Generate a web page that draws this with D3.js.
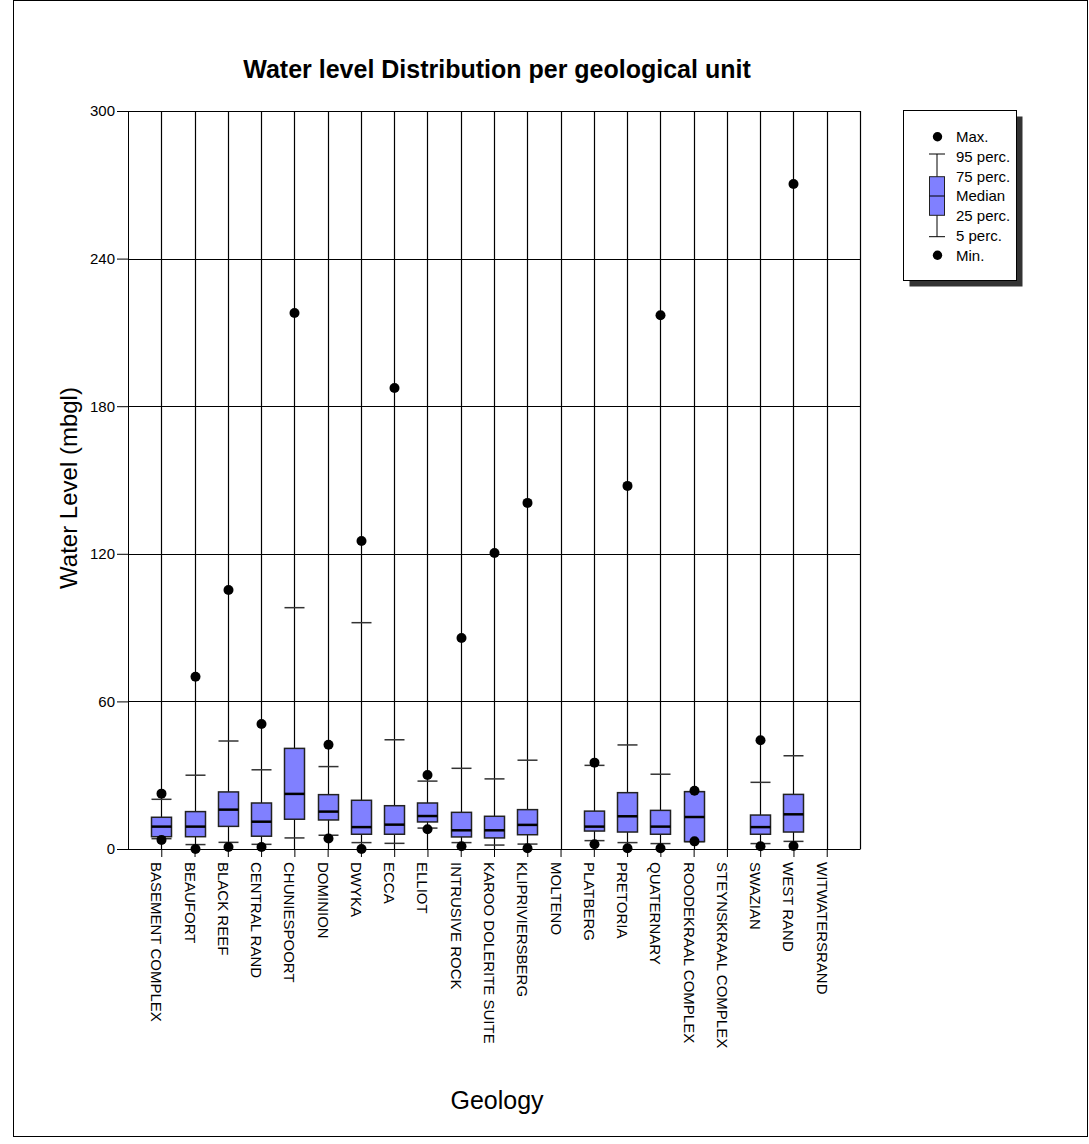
<!DOCTYPE html>
<html>
<head>
<meta charset="utf-8">
<script src="https://cdn.jsdelivr.net/npm/d3@7"></script>
<style>
  html, body { margin: 0; padding: 0; background: #fff; }
  svg { display: block; font-family: Arial, "Liberation Sans", sans-serif; }
</style>
</head>
<body>
<svg id="chart" width="1089" height="1144"></svg>
<script>
// Geological units along the x axis
const categories = [
  "BASEMENT COMPLEX", "BEAUFORT", "BLACK REEF", "CENTRAL RAND", "CHUNIESPOORT",
  "DOMINION", "DWYKA", "ECCA", "ELLIOT", "INTRUSIVE ROCK", "KAROO DOLERITE SUITE",
  "KLIPRIVIERSBERG", "MOLTENO", "PLATBERG", "PRETORIA", "QUATERNARY",
  "ROODEKRAAL COMPLEX", "STEYNSKRAAL COMPLEX", "SWAZIAN", "WEST RAND", "WITWATERSRAND"
];

// Water level statistics (mbgl) per unit; null = no data
const maxValues = [22.5, 70, 105.3, 50.8, 217.9, 42.4, 125.2, 187.4, 30.1, 85.8, 120.3, 140.7, null, 35.1, 147.6, 217.0, 23.7, null, 44.2, 270.3, null];
const p95Values = [20.2, 30.0, 43.9, 32.2, 98.1, 33.5, 92.0, 44.4, 27.6, 32.8, 28.5, 36.1, null, 34.0, 42.3, 30.4, 23.3, null, 27.1, 37.9, null];
const q3Values  = [12.9, 15.2, 23.2, 18.7, 40.9, 22.1, 19.8, 17.6, 18.7, 14.9, 13.3, 16.0, null, 15.4, 22.9, 15.7, 23.3, null, 13.8, 22.2, null];
const medianValues = [9.1, 9.1, 16.0, 11.1, 22.4, 15.2, 8.9, 9.9, 13.4, 7.6, 7.6, 9.8, null, 9.1, 13.3, 9.1, 13.0, null, 8.9, 14.1, null];
const q1Values  = [5.0, 5.0, 9.2, 5.2, 12.1, 11.8, 6.0, 6.0, 11.0, 4.9, 4.5, 5.8, null, 7.3, 6.9, 6.0, 3.0, null, 6.0, 6.9, null];
const p5Values  = [4.2, 1.8, 2.7, 1.9, 4.5, 5.6, 2.6, 2.3, 8.5, 2.6, 1.6, 2.0, null, 3.4, 2.6, 2.2, 3.0, null, 2.2, 3.1, null];
const minValues = [3.7, 0.0, 0.8, 0.8, null, 4.3, 0.0, null, 8.0, 1.1, null, 0.3, null, 1.9, 0.3, 0.3, 3.1, null, 1.1, 1.2, null];

const yTicks = [0, 60, 120, 180, 240, 300];
const legendLabels = ["Max.", "95 perc.", "75 perc.", "Median", "25 perc.", "5 perc.", "Min."];

const boxFill = "#8080ff";
const svg = d3.select("#chart");

// Outer frame
svg.append("rect")
  .attr("x", 13.5).attr("y", 0.5)
  .attr("width", 1074).attr("height", 1136)
  .attr("fill", "#fff").attr("stroke", "#000").attr("stroke-width", 1);

const plot = { left: 128, right: 860, top: 111, bottom: 849 };

const x = d3.scalePoint().domain(categories).range([plot.left, plot.right]).padding(1);
const y = d3.scaleLinear().domain([0, 300]).range([plot.bottom, plot.top]);

// Horizontal grid + y axis
const yAxis = d3.axisLeft(y).tickValues(yTicks).tickSize(11).tickPadding(2).tickFormat(d3.format("d"));
const gy = svg.append("g").attr("transform", `translate(${plot.left},0)`).call(yAxis);
gy.select(".domain").attr("stroke", "#000");
gy.selectAll(".tick line").attr("stroke", "#000");
gy.selectAll(".tick text").attr("font-size", 15).attr("fill", "#000")
  .attr("font-family", "Arial, 'Liberation Sans', sans-serif");

svg.append("g").selectAll("line").data(yTicks).join("line")
  .attr("x1", plot.left).attr("x2", plot.right)
  .attr("y1", d => Math.round(y(d)) + 0.5).attr("y2", d => Math.round(y(d)) + 0.5)
  .attr("stroke", "#000").attr("stroke-width", 1);

// Vertical grid lines at each unit, plus the right edge
const vx = categories.map(c => x(c)).concat([plot.right]);
svg.append("g").selectAll("line").data(vx).join("line")
  .attr("x1", d => Math.round(d) + 0.5).attr("x2", d => Math.round(d) + 0.5)
  .attr("y1", plot.top).attr("y2", plot.bottom)
  .attr("stroke", "#000").attr("stroke-width", 1.2);

// x axis with rotated unit names
const xAxis = d3.axisBottom(x).tickSize(8).tickSizeOuter(0).tickFormat(d => d);
const gx = svg.append("g").attr("transform", `translate(0,${plot.bottom})`).call(xAxis);
gx.select(".domain").attr("stroke", "#000");
gx.selectAll(".tick line").attr("stroke", "#000");
gx.selectAll(".tick text")
  .attr("font-size", 15).attr("fill", "#000")
  .attr("font-family", "Arial, 'Liberation Sans', sans-serif")
  .attr("text-anchor", "start")
  .attr("dy", null)
  .attr("y", 0)
  .attr("transform", "translate(-10.5,13) rotate(90)");

// Box plots
const stats = categories.map((c, i) => ({
  name: c, max: maxValues[i], p95: p95Values[i], q3: q3Values[i],
  med: medianValues[i], q1: q1Values[i], p5: p5Values[i], min: minValues[i]
})).filter(d => d.med !== null);

const bw = 20;
const boxes = svg.append("g");
const g = boxes.selectAll("g").data(stats).join("g")
  .attr("transform", d => `translate(${Math.round(x(d.name)) + 0.5},0)`);

g.append("line").attr("class", "cap")
  .attr("x1", -bw / 2).attr("x2", bw / 2)
  .attr("y1", d => y(d.p95)).attr("y2", d => y(d.p95))
  .attr("stroke", "#333").attr("stroke-width", 1.5);
g.append("line").attr("class", "cap")
  .attr("x1", -bw / 2).attr("x2", bw / 2)
  .attr("y1", d => y(d.p5)).attr("y2", d => y(d.p5))
  .attr("stroke", "#333").attr("stroke-width", 1.5);
g.append("rect")
  .attr("x", -bw / 2).attr("width", bw)
  .attr("y", d => y(d.q3)).attr("height", d => y(d.q1) - y(d.q3))
  .attr("fill", boxFill).attr("stroke", "#222").attr("stroke-width", 1.5);
g.append("line")
  .attr("x1", -bw / 2).attr("x2", bw / 2)
  .attr("y1", d => y(d.med)).attr("y2", d => y(d.med))
  .attr("stroke", "#000").attr("stroke-width", 2.5);

const dots = [];
stats.forEach(d => {
  if (d.max !== null) dots.push({ name: d.name, v: d.max });
  if (d.min !== null) dots.push({ name: d.name, v: d.min });
});
svg.append("g").selectAll("circle").data(dots).join("circle")
  .attr("cx", d => Math.round(x(d.name)) + 0.5)
  .attr("cy", d => y(d.v))
  .attr("r", 5).attr("fill", "#000");

// Titles
svg.append("text")
  .attr("x", 497).attr("y", 78)
  .attr("text-anchor", "middle")
  .attr("font-size", 25).attr("font-weight", "bold")
  .text("Water level Distribution per geological unit");

svg.append("text")
  .attr("transform", "translate(77,488) rotate(-90)")
  .attr("text-anchor", "middle")
  .attr("font-size", 24)
  .text("Water Level (mbgl)");

svg.append("text")
  .attr("x", 497).attr("y", 1109)
  .attr("text-anchor", "middle")
  .attr("font-size", 25)
  .text("Geology");

// Legend
const lg = svg.append("g");
lg.append("rect").attr("x", 909.5).attr("y", 116.5).attr("width", 113).attr("height", 170).attr("fill", "#333");
lg.append("rect").attr("x", 903.5).attr("y", 110.5).attr("width", 113).attr("height", 170)
  .attr("fill", "#fff").attr("stroke", "#000").attr("stroke-width", 1);

const lx = 937;
lg.append("line").attr("x1", lx).attr("x2", lx).attr("y1", 154).attr("y2", 236.7)
  .attr("stroke", "#000").attr("stroke-width", 1);
lg.append("line").attr("x1", lx - 8).attr("x2", lx + 8).attr("y1", 154).attr("y2", 154)
  .attr("stroke", "#000").attr("stroke-width", 1);
lg.append("line").attr("x1", lx - 8).attr("x2", lx + 8).attr("y1", 236.7).attr("y2", 236.7)
  .attr("stroke", "#000").attr("stroke-width", 1);
lg.append("rect").attr("x", lx - 7.5).attr("y", 176.7).attr("width", 15).attr("height", 38.6)
  .attr("fill", boxFill).attr("stroke", "#222").attr("stroke-width", 1);
lg.append("line").attr("x1", lx - 7.5).attr("x2", lx + 7.5).attr("y1", 196).attr("y2", 196)
  .attr("stroke", "#000").attr("stroke-width", 1);
lg.append("circle").attr("cx", lx + 0.5).attr("cy", 136.7).attr("r", 4.7).attr("fill", "#000");
lg.append("circle").attr("cx", lx + 0.5).attr("cy", 255.3).attr("r", 4.7).attr("fill", "#000");

lg.selectAll("text.lab").data(legendLabels).join("text")
  .attr("class", "lab")
  .attr("x", 956).attr("y", (d, i) => 142 + i * 19.75)
  .attr("font-size", 15)
  .text(d => d);
</script>
</body>
</html>
